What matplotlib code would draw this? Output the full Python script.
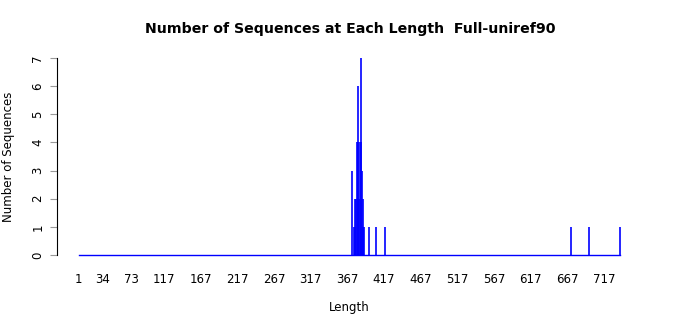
import matplotlib
matplotlib.use("Agg")
import matplotlib.pyplot as plt

lengths = [373, 376, 377, 378, 379, 380, 381, 382, 383, 384, 385, 386, 387, 388, 389, 390, 397, 406, 418, 672, 696, 739]
counts  = [3,   1,   1,   2,   2,   4,   6,   4,   2,   4,   7,   4,   3,   2,   1,   1,   1,   1,   1,   1,   1,   1]
x_min, x_max = 1, 739
xtick_vals = [1, 34, 73, 117, 167, 217, 267, 317, 367, 417, 467, 517, 567, 617, 667, 717]
ytick_vals = [0, 1, 2, 3, 4, 5, 6, 7]

fig = plt.figure(figsize=(7, 3.15), dpi=100)
ax = fig.add_axes([57/700, 1-262.9/315, 585/700, 212.8/315])

ax.plot([x_min, x_max], [0, 0], color="blue", lw=1)
ax.vlines(lengths, 0, counts, color="blue", lw=1.2)

ax.set_xlim(x_min - 0.04*(x_max-x_min), x_max + 0.04*(x_max-x_min))
ax.set_ylim(-0.04*7, 7*1.04)

for s in ["top", "right", "bottom"]:
    ax.spines[s].set_visible(False)
ax.spines["left"].set_bounds(0, 7)
ax.spines["left"].set_color("black")
ax.spines["left"].set_linewidth(0.8)

ax.set_yticks(ytick_vals)
ax.set_yticklabels([str(v) for v in ytick_vals], rotation=90, va="center", fontsize=8.5)
ax.tick_params(axis="y", length=5, width=0.8, color="#999999", pad=4)
ax.set_xticks(xtick_vals)
ax.set_xticklabels([str(v) for v in xtick_vals], fontsize=8.5)
ax.tick_params(axis="x", length=0, pad=7)

fig.text(349/700, 1-307/315, "Length", ha="center", va="center", fontsize=8.5)
fig.text(9/700, 1-157/315, "Number of Sequences", ha="center", va="center",
         rotation=90, fontsize=8.5)
fig.text(0.5, 1-29/315, "Number of Sequences at Each Length  Full-uniref90",
         ha="center", va="center", fontsize=10.2, fontweight="bold")

fig.savefig("out.png", dpi=100)
